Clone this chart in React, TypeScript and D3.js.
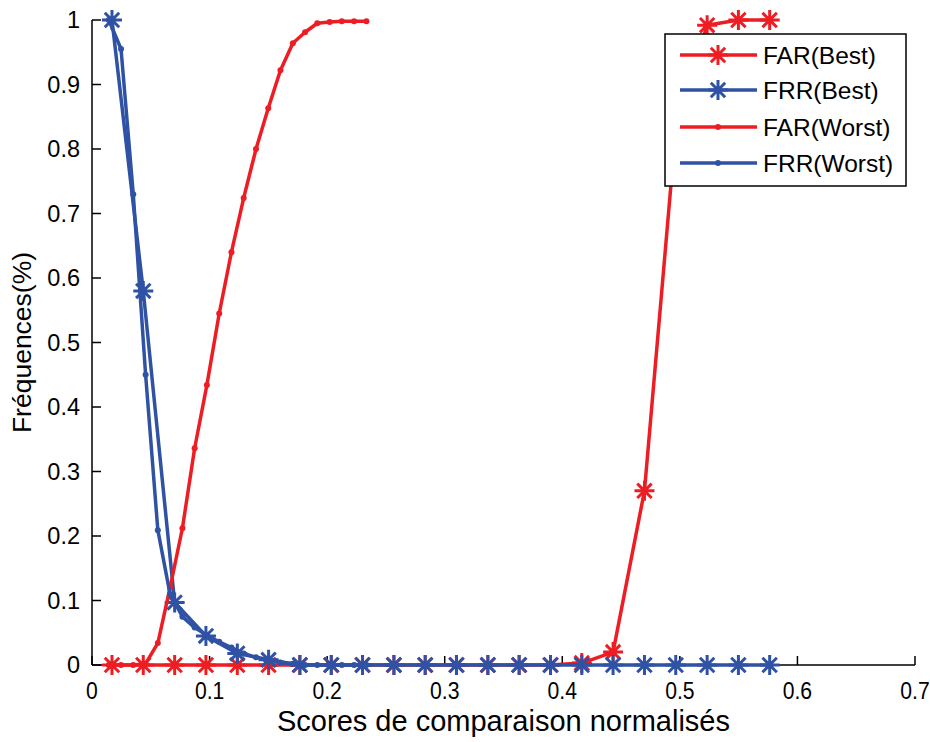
import React from "react";
import * as d3 from "d3";

// ---- data ----
const bestX = [0.017, 0.0436, 0.0703, 0.0969, 0.1236, 0.1502, 0.1768, 0.2035, 0.2301, 0.2568, 0.2834,
  0.31, 0.3367, 0.3633, 0.39, 0.4166, 0.4432, 0.4699, 0.4965, 0.5232, 0.5498, 0.5764];
const farBest = [0, 0, 0, 0, 0, 0, 0, 0, 0, 0, 0, 0, 0, 0, 0, 0.003, 0.02, 0.27, 0.83, 0.992, 1.0, 1.0];
const frrBest = [1.0, 0.58, 0.097, 0.045, 0.018, 0.008, 0, 0, 0, 0, 0, 0, 0, 0, 0, 0, 0, 0, 0, 0, 0, 0];

const worstX = [0.0143, 0.0247, 0.0351, 0.0456, 0.056, 0.0664, 0.0769, 0.0873, 0.0977, 0.1082, 0.1186,
  0.129, 0.1395, 0.1499, 0.1603, 0.1708, 0.1812, 0.1916, 0.2021, 0.2125, 0.2229, 0.2334];
const farWorst = [0, 0, 0, 0.002, 0.034, 0.12, 0.212, 0.336, 0.434, 0.545, 0.64, 0.724, 0.8, 0.863,
  0.922, 0.964, 0.981, 0.995, 0.997, 0.998, 0.998, 0.998];
const frrWorst = [1.0, 0.955, 0.73, 0.45, 0.209, 0.11, 0.075, 0.058, 0.046, 0.036, 0.027, 0.018, 0.012,
  0.008, 0.004, 0.002, 0, 0, 0, 0, 0, 0];

const xTicks = [0, 0.1, 0.2, 0.3, 0.4, 0.5, 0.6, 0.7];
const yTicks = [0, 0.1, 0.2, 0.3, 0.4, 0.5, 0.6, 0.7, 0.8, 0.9, 1];
const legendLabels = ["FAR(Best)", "FRR(Best)", "FAR(Worst)", "FRR(Worst)"];

const RED = "#EE1D23";
const BLUE = "#2F52A4";
const FONT = "'Liberation Sans', Arial, sans-serif";

const W = 930, H = 742;
const M = { left: 92, right: 915, top: 20, bottom: 665 };

function asterisk(cx: number, cy: number, r: number) {
  const d = r * 0.72;
  return `M${cx - r},${cy}H${cx + r}M${cx},${cy - r}V${cy + r}M${cx - d},${cy - d}L${cx + d},${cy + d}M${cx - d},${cy + d}L${cx + d},${cy - d}`;
}

export default function App() {
  const x = d3.scaleLinear().domain([0, 0.7]).range([M.left, M.right]);
  const y = d3.scaleLinear().domain([0, 1]).range([M.bottom, M.top]);
  const line = d3.line<[number, number]>().x((d) => x(d[0])).y((d) => y(d[1]));

  const series = [
    { xs: bestX, ys: farBest, color: RED, marker: "star" },
    { xs: bestX, ys: frrBest, color: BLUE, marker: "star" },
    { xs: worstX, ys: farWorst, color: RED, marker: "dot" },
    { xs: worstX, ys: frrWorst, color: BLUE, marker: "dot" },
  ];

  const legendY = [55, 90, 127, 163];

  return (
    <svg width={W} height={H} style={{ position: "absolute", left: 0, top: 0, background: "#fff" }}
      fontFamily={FONT}>
      <rect x={0} y={0} width={W} height={H} fill="#fff" />
      {/* axes */}
      <line x1={M.left} x2={M.left} y1={M.top} y2={M.bottom} stroke="#000" strokeWidth={1.5} />
      <line x1={M.left} x2={M.right} y1={M.bottom} y2={M.bottom} stroke="#000" strokeWidth={1.5} />
      {yTicks.map((t) => (
        <g key={"y" + t}>
          <line x1={M.left} x2={M.left + 9} y1={y(t)} y2={y(t)} stroke="#000" strokeWidth={1.5} />
          <text x={80} y={y(t) + 8} textAnchor="end" fontSize={23.5} fill="#000">{d3.format("")(t)}</text>
        </g>
      ))}
      {xTicks.map((t) => (
        <g key={"x" + t}>
          <line x1={x(t)} x2={x(t)} y1={M.bottom} y2={M.bottom - 9} stroke="#000" strokeWidth={1.5} />
          <text transform={`translate(${x(t)},699) scale(0.9,1)`} textAnchor="middle" fontSize={23.5}
            fill="#000">{d3.format("")(t)}</text>
        </g>
      ))}
      <text x={(M.left + M.right) / 2} y={731} textAnchor="middle" fontSize={29} fill="#000">
        Scores de comparaison normalisés
      </text>
      <text transform={`translate(31,${(M.top + M.bottom) / 2}) rotate(-90)`} textAnchor="middle"
        fontSize={26.5} fill="#000">Fréquences(%)</text>

      {/* series */}
      {series.map((s, i) => {
        const pts = s.xs.map((v, j) => [v, s.ys[j]] as [number, number]);
        return (
          <g key={i}>
            <path d={line(pts) || ""} fill="none" stroke={s.color} strokeWidth={3.5} strokeLinejoin="round" />
            {pts.map((p, j) =>
              s.marker === "star" ? (
                <path key={j} d={asterisk(x(p[0]), y(p[1]), 10)} stroke={s.color} strokeWidth={3} fill="none" />
              ) : (
                <circle key={j} cx={x(p[0])} cy={y(p[1])} r={3} fill={s.color} />
              )
            )}
          </g>
        );
      })}

      {/* legend */}
      <rect x={665} y={34} width={241} height={152} fill="#fff" stroke="#000" strokeWidth={1.5} />
      {legendLabels.map((lab, i) => (
        <g key={lab}>
          <line x1={680} x2={757} y1={legendY[i]} y2={legendY[i]} stroke={series[i].color} strokeWidth={3.5} />
          {series[i].marker === "star" ? (
            <path d={asterisk(718, legendY[i], 10)} stroke={series[i].color} strokeWidth={3} fill="none" />
          ) : (
            <circle cx={718} cy={legendY[i]} r={3} fill={series[i].color} />
          )}
          <text x={763} y={legendY[i] + 9} fontSize={24.5} fill="#000">{lab}</text>
        </g>
      ))}
    </svg>
  );
}
